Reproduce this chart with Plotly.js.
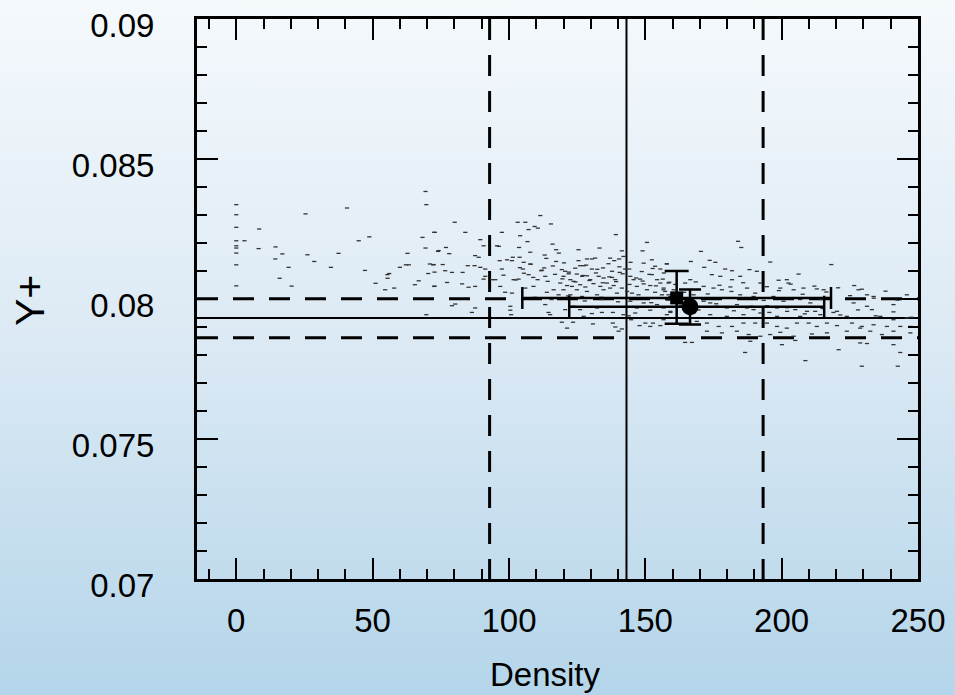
<!DOCTYPE html>
<html>
<head>
<meta charset="utf-8">
<script src="https://cdn.plot.ly/plotly-3.0.1.min.js"></script>
<style>
  html, body { margin:0; padding:0; }
  body { width:955px; height:695px; background: linear-gradient(to bottom, #f5f9fc 0%, #dbe9f4 50%, #b4d5ea 100%); }
  #chart { width:955px; height:695px; }
</style>
</head>
<body>
<div id="chart"></div>
<script>
// ---- axis ticks ----
const xTickVals = [0, 50, 100, 150, 200, 250];
const xTickText = ["0", "50", "100", "150", "200", "250"];
const yTickVals = [0.07, 0.075, 0.08, 0.085, 0.09];
const yTickText = ["0.07", "0.075", "0.08", "0.085", "0.09"];

// ---- reference lines (Density and Y+) ----
const densitySolid = [143.1];
const densityDashed = [92.9, 193.2];
const ySolid = [0.07932];
const yDashed = [0.08001, 0.07862];

// ---- cloud of points: low density part ----
const cloudX1 = [0,0,0,0,0,0,0,0,0,3.0,8.4,8.2,14.4,16.9,14.3,19.2,15.9,20.3,25.4,26.1,28.6,34.7,37.5,40.6,44.9,48.8,47.2,51.1,54.6,55.5,55.4,56.1,57.9,60.0,62.2,63.3,62.8,65.5,66.9,69.4,69.7,68.3,69.4,72.8,70.4,71.0,72.2,72.7,72.7,74.0,69.7];
const cloudY1 = [0.08337,0.08301,0.08256,0.08208,0.08190,0.08182,0.08164,0.08122,0.08047,0.08208,0.08250,0.08180,0.08186,0.08161,0.08143,0.08113,0.08074,0.08046,0.08304,0.08158,0.08134,0.08113,0.08163,0.08325,0.08208,0.08222,0.08102,0.08056,0.08033,0.08074,0.08087,0.08091,0.08039,0.08113,0.08122,0.08122,0.08163,0.08051,0.08065,0.08384,0.08337,0.08220,0.08182,0.08238,0.08091,0.08125,0.08122,0.08096,0.08046,0.08170,0.07944];

// ---- cloud: middle part ----
const cloudX2 = [
72.6,80.1,84.0,76.9,74.2,78.1,89.5,90.7,87.6,88.9,
84.9,87.4,89.5,91.3,91.3,72.4,75.7,76.6,79.1,83.0,
72.6,77.3,82.8,85.2,87.6,90.7,93.8,95.6,96.3,97.4,
103.2,106.0,107.2,109.4,110.6,111.5,115.4,104.1,106.8,103.7,
107.8,101.4,103.9,101.1,96.6,99.3,105.4,107.8,105.1,107.2,
103.5,101.7,97.4,95.0,96.8,98.6,101.1,106.0,109.0,110.5,
113.3,116.0,117.3,118.3,113.1,113.7,117.3,112.9,119.4,120.6,
121.9,120.0,122.5,125.5,128.6,130.4,131.6,125.5,133.2,126.1,
127.4,130.4,124.9,126.8,128.6,129.8,132.9,134.7,137.8,139.0,
137.1,138.6,140.4,141.4,142.0,139.2,134.5,137.8,140.6,142.6,
144.1,144.5,145.7,146.9,148.1,149.4,150.6,149.0,152.4,149.4,
153.6,155.5,157.9,152.4,154.3,155.5,156.7,158.5,160.4,113.9,
116.4,118.2,120.0,123.1,124.9,128.6,132.3,134.7,137.1,139.6,
140.8,113.3,114.5,115.1,100.5,100.5,100.8,86.4,87.6,79.1,
80.3,120.6,119.4,121.3,123.5,127.4,130.4,130.8,134.1,138.1,
142.0,138.1,139.0,140.2,141.4,143.9,144.8,146.3,147.9,150.0,
151.8,152.8,155.5,157.9,159.2,
118.8,121.3,123.7,126.1,128.0,131.0,133.5,135.9,138.4,141.4,
143.3,145.1,147.5,150.6,151.8,153.6,156.1,157.3,117.6,122.5,
126.8,134.1,144.5,149.4,154.3,146.9,151.8,156.7,132.3,126.1,
123.7,
98.0,102.5,105.5,108.9,111.8,114.2,116.9,119.6,122.0,124.4,
127.1,129.5,131.9,134.4,136.8,139.3,141.7,144.2,146.6,149.0,
151.5,153.9,156.4,158.8,104.0,108.0,112.1,116.1,120.2,124.3,
128.3,132.4,136.5,140.5,144.6,148.7,152.7,156.8,109.5,115.6,
121.7,127.8,133.9,140.0,146.1,152.2,158.3];
const cloudY2 = [
0.08238,0.08274,0.08238,0.08184,0.08173,0.08162,0.08212,0.08190,0.08155,0.08149,
0.08119,0.08119,0.08113,0.08107,0.08081,0.08123,0.08123,0.08101,0.08095,0.08095,
0.08045,0.08059,0.08054,0.08042,0.08045,0.08071,0.08069,0.08190,0.08188,0.08238,
0.08274,0.08274,0.08248,0.08259,0.08253,0.08298,0.08268,0.08226,0.08205,0.08184,
0.08167,0.08149,0.08149,0.08137,0.08137,0.08140,0.08131,0.08125,0.08107,0.08087,
0.08071,0.08069,0.08107,0.08069,0.08045,0.08024,0.08021,0.08039,0.08045,0.08069,
0.08081,0.08196,0.08176,0.08164,0.08157,0.08145,0.08134,0.08111,0.08105,0.08099,
0.08090,0.08081,0.08069,0.08176,0.08143,0.08143,0.08146,0.08137,0.08182,0.08119,
0.08119,0.08107,0.08089,0.08081,0.08083,0.08069,0.08081,0.08075,0.08077,0.08069,
0.08146,0.08137,0.08143,0.08172,0.08152,0.08230,0.08111,0.08099,0.08095,0.08107,
0.08107,0.08081,0.08069,0.08045,0.08071,0.08054,0.08202,0.08172,0.08140,0.08128,
0.08117,0.08107,0.08125,0.08087,0.08069,0.08057,0.08039,0.08057,0.08033,0.08024,
0.08033,0.08015,0.08033,0.08045,0.08033,0.08027,0.08015,0.08033,0.08039,0.08021,
0.08003,0.07980,0.07952,0.07944,0.07974,0.07960,0.07944,0.07952,0.07968,0.07976,
0.07982,0.07962,0.07917,0.07896,0.07917,0.07938,0.07948,0.07911,0.07952,0.07952,
0.07944,0.07914,0.07900,0.07885,0.07893,0.07940,0.07926,0.07950,0.07905,0.07914,
0.07902,0.07914,0.07905,0.07944,0.07952,
0.08057,0.08048,0.08063,0.08051,0.08043,0.08055,0.08045,0.08057,0.08048,0.08039,
0.08027,0.08021,0.08015,0.08033,0.08048,0.08024,0.08015,0.08027,0.08003,0.08015,
0.08009,0.07998,0.07992,0.07986,0.07980,0.07968,0.07960,0.07968,0.07968,0.07962,
0.07974,
0.08085,0.08068,0.08092,0.08077,0.08101,0.08063,0.08088,0.08072,0.08096,0.08061,
0.08084,0.08066,0.08093,0.08058,0.08079,0.08062,0.08090,0.08052,0.08075,0.08064,
0.08088,0.08047,0.08071,0.08060,0.08112,0.08124,0.08103,0.08118,0.08129,0.08110,
0.08121,0.08106,0.08126,0.08115,0.08131,0.08098,0.08109,0.08093,0.08006,0.07998,
0.08011,0.07993,0.08006,0.07990,0.08004,0.07987,0.07996];

// ---- cloud: high density part ----
const cloudX3 = [
184.0,185.2,170.4,166.7,173.6,157.9,171.6,175.7,179.3,181.8,
188.2,190.9,174.4,177.5,181.8,184.8,166.5,164.6,171.4,175.0,
178.1,181.2,187.3,192.2,195.8,198.9,201.9,202.5,206.2,199.5,
204.4,208.0,212.9,215.4,218.2,226.6,228.2,231.3,233.7,226.4,
231.3,233.1,241.0,245.9,156.7,158.5,171.4,173.8,176.3,179.9,
183.6,187.3,189.7,194.6,198.3,202.0,205.0,209.3,212.3,219.0,
220.3,159.2,156.7,168.9,172.6,176.9,181.8,186.0,190.3,194.6,
198.3,201.9,205.6,209.9,212.9,216.6,220.3,225.8,229.4,233.7,
238.6,243.5,247.2,172.6,178.1,183.6,187.9,192.2,195.8,199.5,
204.4,211.1,216.6,223.9,228.8,232.5,236.8,241.0,247.2,164.6,
167.1,188.5,200.1,205.0,228.8,231.3,241.0,243.5,220.9,186.6,
208.7,229.4,242.6,
159.2,162.8,167.7,170.1,179.9,184.8,189.7,193.4,197.0,200.7,
206.8,210.5,214.2,167.7,173.8,179.9,186.0,192.2,198.3,206.8,
214.2,223.9,236.2,241.0,245.9,
161.0,164.2,168.5,172.9,177.2,181.6,185.9,190.3,194.6,199.0,
203.3,207.7,212.0,216.4,220.7,225.1,229.4,233.8,238.1,242.5,
163.0,169.5,176.0,182.5,189.0,195.5,202.0,208.5,215.0,221.5,
228.0,234.5,241.0,247.5];
const cloudY3 = [
0.08206,0.08184,0.08170,0.08134,0.08138,0.08126,0.08113,0.08131,0.08107,0.08101,
0.08105,0.08099,0.08087,0.08081,0.08069,0.08081,0.08069,0.08057,0.08045,0.08039,
0.08033,0.08043,0.08039,0.08057,0.08132,0.08067,0.08069,0.08057,0.08089,0.08039,
0.08033,0.08039,0.08036,0.08033,0.08123,0.08048,0.08033,0.08015,0.08009,0.07986,
0.07974,0.07962,0.07980,0.08015,0.08033,0.08015,0.07992,0.07986,0.07974,0.07968,
0.07980,0.07968,0.07962,0.07976,0.07968,0.07956,0.07962,0.07956,0.07956,0.07952,
0.07956,0.07956,0.07926,0.07920,0.07914,0.07902,0.07902,0.07914,0.07914,0.07914,
0.07902,0.07896,0.07914,0.07914,0.07902,0.07914,0.07905,0.07914,0.07902,0.07908,
0.07902,0.07902,0.07902,0.07885,0.07879,0.07885,0.07873,0.07867,0.07873,0.07881,
0.07867,0.07875,0.07879,0.07885,0.07896,0.07885,0.07873,0.07885,0.07879,0.07845,
0.07845,0.07849,0.07837,0.07852,0.07843,0.07841,0.07837,0.07809,0.07819,0.07809,
0.07780,0.07760,0.07760,
0.08009,0.07992,0.08015,0.08003,0.08003,0.08015,0.08009,0.07995,0.08009,0.07992,
0.07998,0.07986,0.07998,0.07950,0.07944,0.07938,0.07944,0.07950,0.07938,0.07938,
0.07944,0.07938,0.07938,0.07926,0.07932,
0.08052,0.08024,0.08061,0.08018,0.08049,0.08027,0.08058,0.08021,0.08044,0.08030,
0.08053,0.08017,0.08046,0.08025,0.08040,0.08012,0.08035,0.08003,0.08028,0.07996,
0.07978,0.07961,0.07983,0.07958,0.07974,0.07952,0.07969,0.07947,0.07966,0.07943,
0.07961,0.07940,0.07954,0.07935];

// ---- summary points with error bars ----
const squareX = [161.5], squareY = [0.08004];
const squareErrX = [56.6];
const squareErrYPlus = [0.00096], squareErrYMinus = [0.00092];
const circleX = [166.4], circleY = [0.07972];
const circleErrXPlus = [49.2], circleErrXMinus = [44.3];
const circleErrYPlus = [0.00062], circleErrYMinus = [0.00063];

const FONT = "Liberation Sans, Arial, Helvetica, sans-serif";

const traces = [
  {
    type: "scatter", mode: "markers",
    x: cloudX1.concat(cloudX2, cloudX3),
    y: cloudY1.concat(cloudY2, cloudY3),
    marker: { symbol: "line-ew", size: 3, color: "#333", line: { color: "#333", width: 1.3 } },
    hoverinfo: "skip", showlegend: false
  },
  {
    type: "scatter", mode: "markers",
    x: squareX, y: squareY,
    marker: { symbol: "square", size: 13, color: "black" },
    error_x: { type: "data", array: squareErrX, symmetric: true, color: "black", thickness: 2.5, width: 11 },
    error_y: { type: "data", array: squareErrYPlus, arrayminus: squareErrYMinus, symmetric: false, color: "black", thickness: 2.5, width: 12 },
    showlegend: false
  },
  {
    type: "scatter", mode: "markers",
    x: circleX, y: circleY,
    marker: { symbol: "circle", size: 17, color: "black" },
    error_x: { type: "data", array: circleErrXPlus, arrayminus: circleErrXMinus, symmetric: false, color: "black", thickness: 2.5, width: 11 },
    error_y: { type: "data", array: circleErrYPlus, arrayminus: circleErrYMinus, symmetric: false, color: "black", thickness: 2.5, width: 11 },
    showlegend: false
  }
];

const shapes = [];
densitySolid.forEach(v => shapes.push({ type: "line", xref: "x", yref: "paper", x0: v, x1: v, y0: 1, y1: 0, layer: "below", line: { color: "black", width: 2 } }));
densityDashed.forEach(v => shapes.push({ type: "line", xref: "x", yref: "paper", x0: v, x1: v, y0: 1, y1: 0, layer: "below", line: { color: "black", width: 3, dash: "21px,15px" } }));
ySolid.forEach(v => shapes.push({ type: "line", xref: "paper", yref: "y", x0: 0, x1: 1, y0: v, y1: v, layer: "below", line: { color: "black", width: 2 } }));
yDashed.forEach(v => shapes.push({ type: "line", xref: "paper", yref: "y", x0: 0, x1: 1, y0: v, y1: v, layer: "below", line: { color: "black", width: 3, dash: "21px,15px" } }));

const layout = {
  width: 955, height: 695,
  margin: { l: 197, r: 37, t: 19, b: 116 },
  paper_bgcolor: "rgba(0,0,0,0)",
  plot_bgcolor: "rgba(0,0,0,0)",
  font: { family: FONT, color: "black" },
  xaxis: {
    range: [-14.4, 250], autorange: false,
    tickmode: "array", tickvals: xTickVals, ticktext: xTickText,
    ticks: "inside", ticklen: 21, tickwidth: 2, tickcolor: "black",
    showline: true, linewidth: 3, linecolor: "black", mirror: "ticks",
    showgrid: false, zeroline: false,
    tickfont: { family: FONT, size: 33, color: "black" },
    ticklabelstandoff: 10,
    minor: { tickmode: "linear", tick0: 0, dtick: 10, ticks: "inside", ticklen: 10, tickwidth: 2, tickcolor: "black", showgrid: false }
  },
  yaxis: {
    range: [0.07, 0.09], autorange: false,
    tickmode: "array", tickvals: yTickVals, ticktext: yTickText,
    ticks: "inside", ticklen: 21, tickwidth: 2, tickcolor: "black",
    showline: true, linewidth: 3, linecolor: "black", mirror: "ticks",
    showgrid: false, zeroline: false,
    tickfont: { family: FONT, size: 33, color: "black" },
    ticklabelstandoff: 33,
    ticklabelshift: 6,
    minor: { tickmode: "linear", tick0: 0.07, dtick: 0.001, ticks: "inside", ticklen: 10, tickwidth: 2, tickcolor: "black", showgrid: false }
  },
  shapes: shapes,
  annotations: [
    { text: "Density", xref: "paper", yref: "paper", x: 0.484, y: -0.1705, xanchor: "center", yanchor: "middle", showarrow: false, font: { family: FONT, size: 33, color: "black" } },
    { text: "Y+", xref: "paper", yref: "paper", x: -0.2316, y: 0.4964, xanchor: "center", yanchor: "middle", textangle: -90, showarrow: false, font: { family: FONT, size: 41, color: "black" } }
  ]
};

Plotly.newPlot("chart", traces, layout, { displayModeBar: false, staticPlot: true });
</script>
</body>
</html>
